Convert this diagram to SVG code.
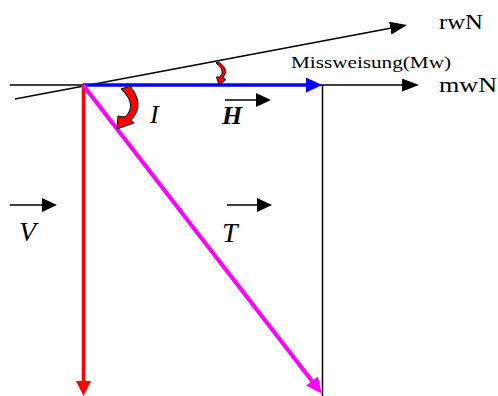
<svg xmlns="http://www.w3.org/2000/svg" width="498" height="396" viewBox="0 0 498 396">
<defs>
<style>
.ln{fill:none;stroke:#000;stroke-width:1.5}
.lbl{font-family:"Liberation Serif","Times New Roman",serif;fill:#000}
.var{font-family:"Liberation Serif","Times New Roman",serif;font-style:italic;fill:#000}
.curl{fill:#ff0000;stroke:#000;stroke-width:1;stroke-linejoin:round}
</style>
<marker id="ahK" markerUnits="userSpaceOnUse" markerWidth="17" markerHeight="13" refX="0" refY="6.5" orient="auto"><path d="M0,0 L17,6.5 L0,13 Z" fill="#000"/></marker>
<marker id="ahV" markerUnits="userSpaceOnUse" markerWidth="15" markerHeight="14" refX="0" refY="7" orient="auto"><path d="M0,0 L15,7 L0,14 Z" fill="#000"/></marker>
<marker id="ahB" markerUnits="userSpaceOnUse" markerWidth="16" markerHeight="15" refX="0" refY="7.5" orient="auto"><path d="M0,0 L16,7.5 L0,15 Z" fill="#0000ff"/></marker>
<marker id="ahR" markerUnits="userSpaceOnUse" markerWidth="15" markerHeight="15" refX="0" refY="7.5" orient="auto"><path d="M0,0 L15,7.5 L0,15 Z" fill="#ff0000"/></marker>
<marker id="ahM" markerUnits="userSpaceOnUse" markerWidth="16" markerHeight="15" refX="0" refY="7.5" orient="auto"><path d="M0,0 L16,7.5 L0,15 Z" fill="#ff00ff"/></marker>
</defs>
<rect width="498" height="396" fill="#fff"/>
<g id="connectors">
<line id="mwN-axis" class="ln" x1="10" y1="85" x2="402" y2="85" marker-end="url(#ahK)"/>
<line id="rwN-axis" class="ln" x1="15" y1="99" x2="390.3" y2="28.2" marker-end="url(#ahK)"/>
<line id="right-edge" class="ln" x1="322.5" y1="85" x2="322.5" y2="396"/>
<line id="vec-H" x1="83" y1="85" x2="306" y2="85" stroke="#0000ff" stroke-width="3.5" marker-end="url(#ahB)"/>
<line id="vec-V" x1="83.5" y1="85" x2="83.5" y2="381" stroke="#ff0000" stroke-width="3.5" marker-end="url(#ahR)"/>
<line id="vec-T" x1="83" y1="85" x2="312" y2="381" stroke="#ff00ff" stroke-width="4" marker-end="url(#ahM)"/>
</g>
<g id="label-rwN"><text class="lbl" x="439" y="29" font-size="21" textLength="44" lengthAdjust="spacingAndGlyphs">rwN</text></g>
<g id="label-mwN"><text class="lbl" x="439" y="92" font-size="21" textLength="58" lengthAdjust="spacingAndGlyphs">mwN</text></g>
<g id="label-Mw"><text class="lbl" x="291" y="68" font-size="17" textLength="160" lengthAdjust="spacingAndGlyphs">Missweisung(Mw)</text></g>
<g id="angle-Mw"><path class="curl" d="M216,63 L219,62 Q230,70.5 223,77 L225.5,80 L219,84.5 L216.5,77 L220,77 Q226,70 216,63 Z"/></g>
<g id="angle-I"><path class="curl" d="M121,89 L130,86 Q145.5,105 131,120 L134,123 L117,129 L118,116 L125,117 Q138,105 121,89 Z"/></g>
<g id="label-I"><text class="var" x="150" y="123" font-size="26">I</text></g>
<g id="label-H">
<line class="ln" x1="225" y1="100" x2="256" y2="100" marker-end="url(#ahV)"/>
<text class="var" x="222" y="124" font-size="26" font-weight="bold">H</text>
</g>
<g id="label-V">
<line class="ln" x1="10" y1="205" x2="42" y2="205" marker-end="url(#ahV)"/>
<text class="var" x="19" y="241" font-size="28">V</text>
</g>
<g id="label-T">
<line class="ln" x1="227" y1="205" x2="257" y2="205" marker-end="url(#ahV)"/>
<text class="var" x="222" y="242" font-size="28">T</text>
</g>
</svg>
